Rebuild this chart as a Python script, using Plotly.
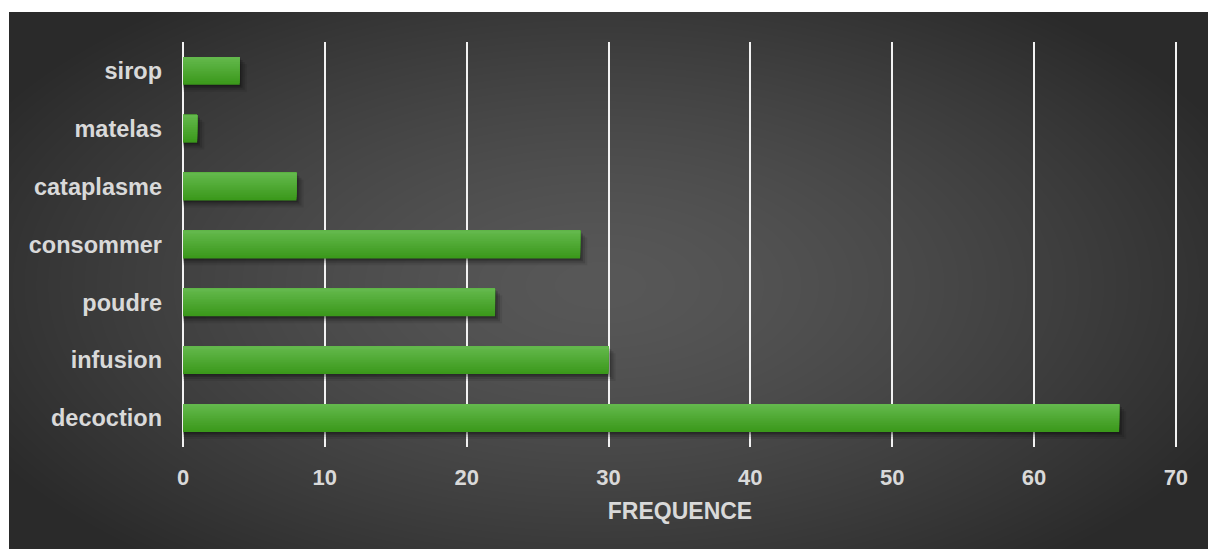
import base64
import struct
import zlib

import numpy as np
import plotly.graph_objects as go

# Usage categories (top to bottom) and their frequencies
categories = ["sirop", "matelas", "cataplasme", "consommer", "poudre", "infusion", "decoction"]
frequences = [4, 1, 8, 28, 22, 30, 66]
x_ticks = [0, 10, 20, 30, 40, 50, 60, 70]

W, H = 1208, 549
L, R, T, B = 183, 31, 42, 102
PW, PH = W - L - R, H - T - B
X_MAX = 70.08


def png_data_uri(gray):
    """Encode a 2-D uint8 array as a greyscale PNG data URI."""
    h, w = gray.shape
    raw = b"".join(b"\x00" + gray[i].tobytes() for i in range(h))

    def chunk(tag, data):
        c = struct.pack(">I", len(data)) + tag + data
        return c + struct.pack(">I", zlib.crc32(tag + data) & 0xFFFFFFFF)

    png = b"\x89PNG\r\n\x1a\n"
    png += chunk(b"IHDR", struct.pack(">IIBBBBB", w, h, 8, 0, 0, 0, 0))
    png += chunk(b"IDAT", zlib.compress(raw, 9))
    png += chunk(b"IEND", b"")
    return "data:image/png;base64," + base64.b64encode(png).decode()


# Dark panel with a soft radial highlight in the middle
bx0, by0 = 9, 12
bw, bh = W - bx0, H - by0
yy, xx = np.mgrid[0:bh, 0:bw].astype(float)
cx, cy = 600 - bx0, 285 - by0
d = np.sqrt(((xx - cx) / 700.0) ** 2 + ((yy - cy) / 360.0) ** 2)
d = np.clip(d, 0, 1)
shade = 88 - (88 - 42) * d ** 1.4
bg = np.clip(shade, 0, 255).astype(np.uint8)
bg_src = png_data_uri(bg)

cat_axis = list(reversed(categories))
bar_w = 0.48

fig = go.Figure()

# Soft drop shadow under each bar
for dx, dy, a in [(0.5, 0.12, 0.08), (0.35, 0.085, 0.12), (0.2, 0.05, 0.16), (0.08, 0.025, 0.18)]:
    fig.add_trace(go.Bar(
        y=categories, x=[v + dx for v in frequences], base=0, orientation="h",
        width=bar_w, offset=-bar_w / 2 - dy,
        marker=dict(color=f"rgba(0,0,0,{a})", line=dict(width=0)),
        hoverinfo="skip", showlegend=False,
    ))

# Bars built from nested layers, each running up to the top edge,
# giving a top-to-bottom green gradient without seams
n = 16
top = np.array([0x63, 0xB8, 0x4C])
bot = np.array([0x3B, 0x99, 0x1B])
step = bar_w / n
for i in range(n):
    t = i / (n - 1)  # 0 = bottom band, 1 = top band
    col = bot + (top - bot) * t
    fig.add_trace(go.Bar(
        y=categories, x=frequences, orientation="h",
        width=bar_w - i * step, offset=-bar_w / 2 + i * step,
        marker=dict(color="rgb(%d,%d,%d)" % tuple(col.round().astype(int)), line=dict(width=0)),
        hovertemplate="%{y}: %{x}<extra></extra>", showlegend=False,
    ))

font_col = "#d9d9d9"
font_fam = "Liberation Sans, Arial, sans-serif"
fig.update_layout(
    width=W, height=H,
    margin=dict(l=L, r=R, t=T, b=B),
    paper_bgcolor="white",
    plot_bgcolor="rgba(0,0,0,0)",
    barmode="overlay",
    font=dict(family=font_fam, color=font_col, size=22),
    images=[dict(
        source=bg_src, xref="paper", yref="paper",
        x=(bx0 - L) / PW, y=(H - B - by0) / PH,
        sizex=bw / PW, sizey=bh / PH,
        xanchor="left", yanchor="top", sizing="stretch", layer="below",
    )],
    xaxis=dict(
        range=[0, X_MAX], tickvals=x_ticks, showgrid=True,
        gridcolor="#f2f2f2", gridwidth=2,
        zeroline=True, zerolinecolor="#f2f2f2", zerolinewidth=2,
        showline=False, ticks="", ticklabelstandoff=15,
        tickfont=dict(size=22, color=font_col, family=font_fam, weight="bold"),
        title=dict(text="<b>FREQUENCE</b>", standoff=13,
                   font=dict(size=23, color=font_col, family=font_fam)),
        fixedrange=True,
    ),
    yaxis=dict(
        type="category", categoryorder="array", categoryarray=cat_axis,
        range=[-0.5, len(categories) - 0.5],
        showgrid=False, zeroline=False, showline=False, ticks="",
        ticklabelstandoff=20,
        tickfont=dict(size=23.5, color=font_col, family=font_fam, weight="bold"),
        fixedrange=True,
    ),
)

fig.write_html("out.html")
